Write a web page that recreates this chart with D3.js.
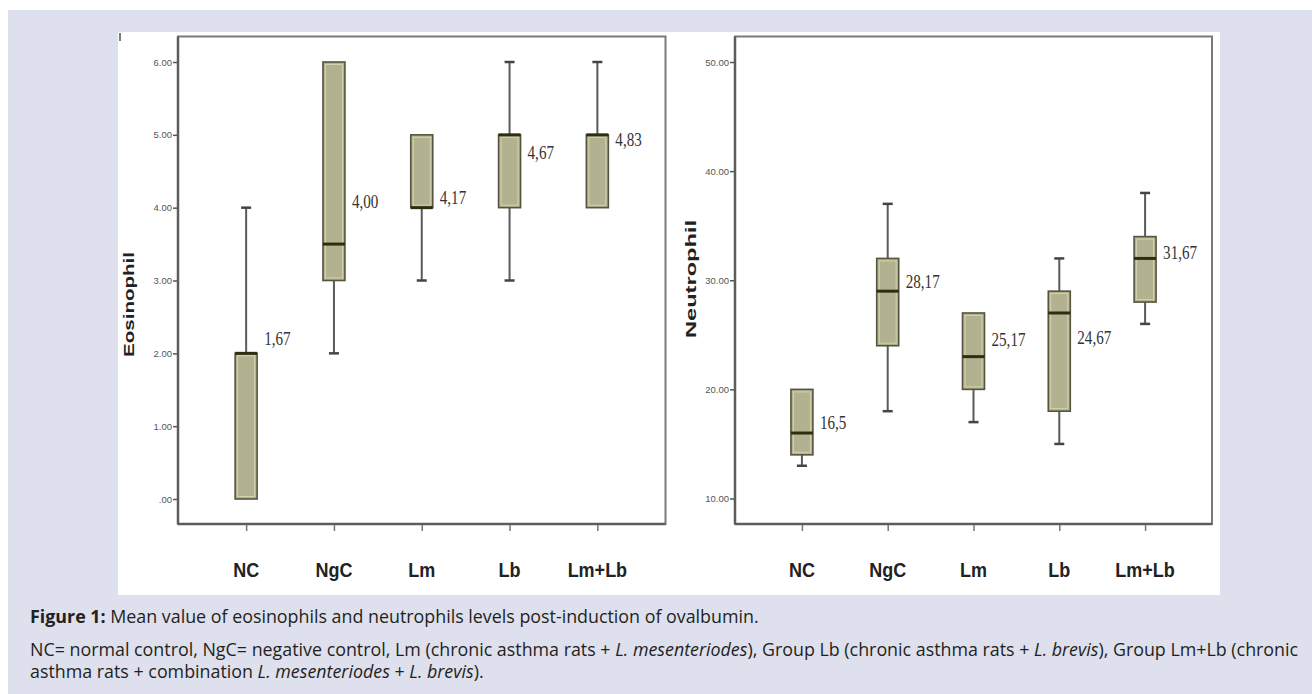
<!DOCTYPE html>
<html><head><meta charset="utf-8">
<script src="https://cdn.jsdelivr.net/npm/d3@7"></script>
<style>body{margin:0;background:#fff;} svg{display:block}</style>
</head><body>
<svg id="c" width="1312" height="694"></svg>
<script>
// ---------- data ----------
const categories = ["NC", "NgC", "Lm", "Lb", "Lm+Lb"];

const eosMin    = [0, 2, 3, 3, 4];
const eosQ1     = [0, 3, 4, 4, 4];
const eosMedian = [2, 3.5, 4, 5, 5];
const eosQ3     = [2, 6, 5, 5, 5];
const eosMax    = [4, 6, 5, 6, 6];
const eosMeanText = ["1,67", "4,00", "4,17", "4,67", "4,83"];
const eosMeanAt   = [2.17, 4.05, 4.11, 4.72, 4.90];
const eosTicks      = [0, 1, 2, 3, 4, 5, 6];
const eosTickLabels = [".00", "1.00", "2.00", "3.00", "4.00", "5.00", "6.00"];

const neuMin    = [13, 18, 17, 15, 26];
const neuQ1     = [14, 24, 20, 18, 28];
const neuMedian = [16, 29, 23, 27, 32];
const neuQ3     = [20, 32, 27, 29, 34];
const neuMax    = [20, 37, 27, 32, 38];
const neuMeanText = ["16,5", "28,17", "25,17", "24,67", "31,67"];
const neuMeanAt   = [16.74, 29.68, 24.36, 24.54, 32.28];
const neuTicks      = [10, 20, 30, 40, 50];
const neuTickLabels = ["10.00", "20.00", "30.00", "40.00", "50.00"];

// ---------- page ----------
const svg = d3.select("#c");
svg.append("rect").attr("x", 0).attr("y", 0).attr("width", 1312).attr("height", 694).attr("fill", "#ffffff");
svg.append("rect").attr("x", 8).attr("y", 10).attr("width", 1304).attr("height", 684).attr("fill", "#dee0ee");
svg.append("rect").attr("x", 118).attr("y", 32).attr("width", 1102).attr("height", 563).attr("fill", "#ffffff");
svg.append("line").attr("x1", 120).attr("x2", 120).attr("y1", 33).attr("y2", 41).attr("stroke", "#222").attr("stroke-width", 1.2);

function drawPanel(cfg) {
  const g = svg.append("g");
  const x = d3.scalePoint().domain(categories).range([cfg.left, cfg.right]).padding(cfg.pad);
  const y = d3.scaleLinear().domain(cfg.domain).range(cfg.yRange);
  const boxW = 22, capW = 10;

  // frame
  g.append("rect").attr("x", cfg.left).attr("y", cfg.top).attr("width", cfg.right - cfg.left)
    .attr("height", cfg.bottom - cfg.top).attr("fill", "none").attr("stroke", "#7a7a7a").attr("stroke-width", 2);

  // y axis
  const ya = g.append("g").attr("transform", `translate(${cfg.left},0)`)
    .call(d3.axisLeft(y).tickValues(cfg.ticks).tickFormat((d, i) => cfg.tickLabels[i]).tickSize(5).tickPadding(1).tickSizeOuter(0));
  ya.select(".domain").remove();
  ya.selectAll("line").attr("stroke", "#555").attr("stroke-width", 1.5);
  ya.selectAll("text").attr("font-family", "Liberation Sans, Arial").attr("font-size", 9.5).attr("fill", "#555");

  // x axis ticks
  const xa = g.append("g").attr("transform", `translate(0,${cfg.bottom})`)
    .call(d3.axisBottom(x).tickSize(7).tickFormat("").tickSizeOuter(0));
  xa.select(".domain").remove();
  xa.selectAll("line").attr("stroke", "#777").attr("stroke-width", 1.5);

  // axis lines (left, bottom) darker
  g.append("line").attr("x1", cfg.left).attr("x2", cfg.left).attr("y1", cfg.top).attr("y2", cfg.bottom)
    .attr("stroke", "#5c5c5c").attr("stroke-width", 2.5);
  g.append("line").attr("x1", cfg.left).attr("x2", cfg.right).attr("y1", cfg.bottom).attr("y2", cfg.bottom)
    .attr("stroke", "#5c5c5c").attr("stroke-width", 2.5);

  categories.forEach((c, i) => {
    const cx = x(c);
    // whiskers
    if (cfg.max[i] > cfg.q3[i]) {
      g.append("line").attr("x1", cx).attr("x2", cx).attr("y1", y(cfg.q3[i])).attr("y2", y(cfg.max[i]))
        .attr("stroke", "#5a5a5a").attr("stroke-width", 2);
      g.append("line").attr("x1", cx - capW / 2).attr("x2", cx + capW / 2).attr("y1", y(cfg.max[i])).attr("y2", y(cfg.max[i]))
        .attr("stroke", "#444").attr("stroke-width", 2.5);
    }
    if (cfg.min[i] < cfg.q1[i]) {
      g.append("line").attr("x1", cx).attr("x2", cx).attr("y1", y(cfg.q1[i])).attr("y2", y(cfg.min[i]))
        .attr("stroke", "#5a5a5a").attr("stroke-width", 2);
      g.append("line").attr("x1", cx - capW / 2).attr("x2", cx + capW / 2).attr("y1", y(cfg.min[i])).attr("y2", y(cfg.min[i]))
        .attr("stroke", "#444").attr("stroke-width", 2.5);
    }
    // box
    const yt = y(cfg.q3[i]), yb = y(cfg.q1[i]);
    g.append("rect").attr("x", cx - boxW / 2).attr("y", yt).attr("width", boxW).attr("height", Math.max(yb - yt, 0))
      .attr("fill", "#b3b290").attr("stroke", "#55553f").attr("stroke-width", 1.6);
    if (yb - yt > 6) {
      g.append("rect").attr("x", cx - boxW / 2 + 2.5).attr("y", yt + 2.5).attr("width", boxW - 5).attr("height", yb - yt - 5)
        .attr("fill", "none").attr("stroke", "#d3d2b0").attr("stroke-width", 1);
    }
    // median
    g.append("line").attr("x1", cx - boxW / 2).attr("x2", cx + boxW / 2).attr("y1", y(cfg.median[i])).attr("y2", y(cfg.median[i]))
      .attr("stroke", "#2e2d12").attr("stroke-width", 3);
    // mean label
    g.append("text").attr("transform", `translate(${cx + boxW / 2 + 7},${y(cfg.labelAt[i])}) scale(0.84,1)`)
      .attr("dominant-baseline", "middle").attr("font-family", "Liberation Serif, Times New Roman, serif")
      .attr("font-size", 18).attr("fill", "#333").text(cfg.labelText[i]);
    // category label
    g.append("text").attr("transform", `translate(${cx},577) scale(0.9,1)`).attr("text-anchor", "middle")
      .attr("font-family", "Liberation Sans, Arial").attr("font-weight", "bold").attr("font-size", 20)
      .attr("fill", "#222").text(c);
  });

  // y title
  g.append("text").attr("transform", `translate(${cfg.titleX},${cfg.titleY}) rotate(-90)`)
    .attr("text-anchor", "middle").attr("dominant-baseline", "middle")
    .attr("font-family", "Liberation Sans, Arial").attr("font-weight", "bold").attr("font-size", 14)
    .attr("fill", "#222").attr("textLength", cfg.titleLen).attr("lengthAdjust", "spacingAndGlyphs").text(cfg.title);
}

drawPanel({
  left: 178, right: 665.5, top: 36.5, bottom: 524, pad: 0.776,
  domain: [0, 6], yRange: [499, 62],
  ticks: eosTicks, tickLabels: eosTickLabels,
  min: eosMin, q1: eosQ1, median: eosMedian, q3: eosQ3, max: eosMax,
  labelText: eosMeanText, labelAt: eosMeanAt,
  title: "Eosinophil", titleX: 130, titleY: 304.5, titleLen: 105
});
drawPanel({
  left: 735, right: 1212, top: 36.5, bottom: 524, pad: 0.78,
  domain: [10, 50], yRange: [498.5, 62],
  ticks: neuTicks, tickLabels: neuTickLabels,
  min: neuMin, q1: neuQ1, median: neuMedian, q3: neuQ3, max: neuMax,
  labelText: neuMeanText, labelAt: neuMeanAt,
  title: "Neutrophil", titleX: 692.5, titleY: 279, titleLen: 118
});

// ---------- caption ----------
const capFont = "Open Sans, Noto Sans, sans-serif";
const lines = [
  { y: 623, parts: [["Figure 1:", "bold", "normal"], [" Mean value of eosinophils and neutrophils levels post-induction of ovalbumin.", "normal", "normal"]] },
  { y: 656, parts: [["NC= normal control, NgC= negative control, Lm (chronic asthma rats + ", "normal", "normal"], ["L. mesenteriodes", "normal", "italic"],
    ["), Group Lb (chronic asthma rats + ", "normal", "normal"], ["L. brevis", "normal", "italic"], ["), Group Lm+Lb (chronic", "normal", "normal"]] },
  { y: 678, parts: [["asthma rats + combination ", "normal", "normal"], ["L. mesenteriodes", "normal", "italic"], [" + ", "normal", "normal"],
    ["L. brevis", "normal", "italic"], [").", "normal", "normal"]] }
];
const capTexts = lines.map(l => {
  const t = svg.append("text").attr("x", 30).attr("y", l.y).attr("font-family", capFont).attr("font-size", 16).attr("fill", "#231f20");
  l.parts.forEach(p => t.append("tspan").attr("font-weight", p[1]).attr("font-style", p[2]).text(p[0]));
  return t;
});
const w2 = capTexts[1].node().getComputedTextLength();
const fs = 16 * 1269 / w2;
capTexts.forEach(t => t.attr("font-size", fs));
</script>
</body></html>
